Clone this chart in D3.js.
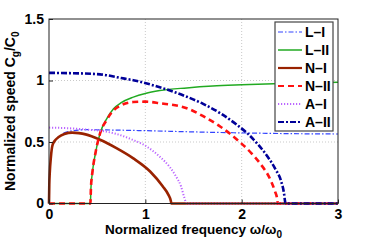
<!DOCTYPE html>
<html>
<head>
<meta charset="utf-8">
<script src="https://cdn.jsdelivr.net/npm/d3@7"></script>
<style>
  body { margin: 0; background: #fff; }
  svg text { font-family: "Liberation Sans", Arial, sans-serif; font-weight: bold; }
</style>
</head>
<body>
<div id="container"></div>
<script>
// curves: [omega/omega0, Cg/C0]
const lI = [[0.15,0.572],[0.25,0.592],[0.4,0.6],[0.6,0.598],[1.0,0.592],[1.5,0.582],[2.0,0.574],[2.5,0.568],[3.0,0.565]];
const lII = [[0,0],[0.43,0],[0.435,0.12],[0.45,0.25],[0.48,0.4],[0.53,0.57],[0.6,0.69],[0.67,0.77],[0.75,0.82],[0.875,0.865],[1.0,0.895],[1.15,0.918],[1.43,0.94],[1.7,0.955],[2.0,0.965],[2.5,0.978],[3.0,0.985]];
const nI = [[0,0],[0.003,0.15],[0.008,0.25],[0.02,0.38],[0.035,0.47],[0.06,0.51],[0.1,0.54],[0.16,0.565],[0.24,0.576],[0.31,0.572],[0.38,0.562],[0.53,0.518],[0.7,0.45],[0.875,0.367],[1.05,0.26],[1.18,0.14],[1.24,0.07],[1.265,0.02],[1.27,0],[3.0,0]];
const nII = [[0,0],[0.43,0],[0.435,0.12],[0.45,0.25],[0.48,0.4],[0.53,0.57],[0.6,0.68],[0.65,0.74],[0.74,0.795],[0.875,0.825],[1.0,0.828],[1.15,0.815],[1.43,0.775],[1.6,0.71],[1.78,0.624],[1.98,0.5],[2.1,0.41],[2.19,0.327],[2.3,0.19],[2.345,0.1],[2.37,0.03],[2.375,0],[3.0,0]];
const aI = [[0,0.617],[0.2,0.612],[0.4,0.6],[0.53,0.592],[0.7,0.565],[0.875,0.516],[1.0,0.47],[1.15,0.38],[1.25,0.3],[1.32,0.218],[1.37,0.14],[1.40,0.06],[1.42,0.01],[1.425,0],[3.0,0]];
const aII = [[0,1.062],[0.2,1.06],[0.53,1.05],[0.75,1.02],[0.875,1.002],[1.15,0.945],[1.43,0.868],[1.6,0.81],[1.78,0.733],[1.95,0.64],[2.06,0.57],[2.17,0.48],[2.27,0.38],[2.35,0.28],[2.41,0.18],[2.44,0.08],[2.45,0.02],[2.455,0],[3.0,0]];

const seriesNames = ["L\u2013I","L\u2013II","N\u2013I","N\u2013II","A\u2013I","A\u2013II"];
const seriesData = [lI, lII, nI, nII, aI, aII];
const xTicks = [0,1,2,3];
const yTicks = [0,0.5,1,1.5];

const styles = [
  {color:"#3344ff", width:1.2, dash:"5,2,1.5,2"},
  {color:"#22aa22", width:1.5, dash:null},
  {color:"#992200", width:2.6, dash:null},
  {color:"#ff1111", width:2.6, dash:"6,4"},
  {color:"#bb66ff", width:2, dash:"1.2,1.8"},
  {color:"#000099", width:2.6, dash:"6,2,2,2"}
];

const w = 374, h = 245;
const pLeft = 49, pRight = 338, pTop = 19, pBottom = 203.5;

const x = d3.scaleLinear().domain([0,3]).range([pLeft, pRight]);
const y = d3.scaleLinear().domain([0,1.5]).range([pBottom, pTop]);

const svg = d3.select("#container").append("svg")
  .attr("width", w).attr("height", h);

// grid
svg.append("g").selectAll("line").data(xTicks.slice(1,3)).enter().append("line")
  .attr("x1", d=>x(d)).attr("x2", d=>x(d)).attr("y1", pTop).attr("y2", pBottom)
  .attr("stroke", "#bbb").attr("stroke-width", 0.8).attr("stroke-dasharray", "1,2");
svg.append("g").selectAll("line").data(yTicks.slice(1,3)).enter().append("line")
  .attr("y1", d=>y(d)).attr("y2", d=>y(d)).attr("x1", pLeft).attr("x2", pRight)
  .attr("stroke", "#bbb").attr("stroke-width", 0.8).attr("stroke-dasharray", "1,2");

const plot = svg.append("g");
const line = d3.line().x(d=>x(d[0])).y(d=>y(d[1])).curve(d3.curveMonotoneX);
seriesData.forEach((data, i) => {
  plot.append("path").datum(data)
    .attr("d", line)
    .attr("fill", "none")
    .attr("stroke", styles[i].color)
    .attr("stroke-width", styles[i].width)
    .attr("stroke-dasharray", styles[i].dash);
});

// box
svg.append("rect").attr("x", pLeft).attr("y", pTop).attr("width", pRight-pLeft).attr("height", pBottom-pTop)
  .attr("fill", "none").attr("stroke", "#222").attr("stroke-width", 1);

// axes, ticks inward
const xAxis = d3.axisBottom(x).tickValues(xTicks).tickSize(-4).tickPadding(6).tickFormat(d3.format("d"));
const yAxis = d3.axisLeft(y).tickValues(yTicks).tickSize(-4).tickPadding(5).tickFormat(d=>d);
const gx = svg.append("g").attr("transform", "translate(0,"+pBottom+")").call(xAxis);
const gy = svg.append("g").attr("transform", "translate("+pLeft+",0)").call(yAxis);
[gx, gy].forEach(g => {
  g.select(".domain").remove();
  g.selectAll("line").attr("stroke", "#222");
  g.selectAll("text").attr("fill", "#000").style("font-size", "14px").style("font-weight", "bold");
});

// axis titles
const xl = svg.append("text").attr("x", (pLeft+pRight)/2).attr("y", 234)
  .attr("text-anchor", "middle").style("font-size", "13.5px");
xl.append("tspan").text("Normalized frequency \u03c9/\u03c9");
xl.append("tspan").attr("dy", 4).style("font-size", "10px").text("0");

const yl = svg.append("text").attr("transform", "translate(15,"+((pTop+pBottom)/2)+") rotate(-90)")
  .attr("text-anchor", "middle").style("font-size", "14px");
yl.append("tspan").text("Normalized speed C");
yl.append("tspan").attr("dy", 4).style("font-size", "10px").text("g");
yl.append("tspan").attr("dy", -4).text("/C");
yl.append("tspan").attr("dy", 4).style("font-size", "10px").text("0");

// legend
const lg = svg.append("g");
lg.append("rect").attr("x", 275).attr("y", 22).attr("width", 58).attr("height", 109)
  .attr("fill", "#fff").attr("stroke", "#444").attr("stroke-width", 1.2);
seriesNames.forEach((name, i) => {
  const yy = 32 + i*18;
  lg.append("line").attr("x1", 278).attr("x2", 302).attr("y1", yy).attr("y2", yy)
    .attr("stroke", styles[i].color)
    .attr("stroke-width", Math.min(styles[i].width, 2.2))
    .attr("stroke-dasharray", styles[i].dash);
  lg.append("text").attr("x", 305).attr("y", yy+5).style("font-size", "14px").text(name);
});
</script>
</body>
</html>
